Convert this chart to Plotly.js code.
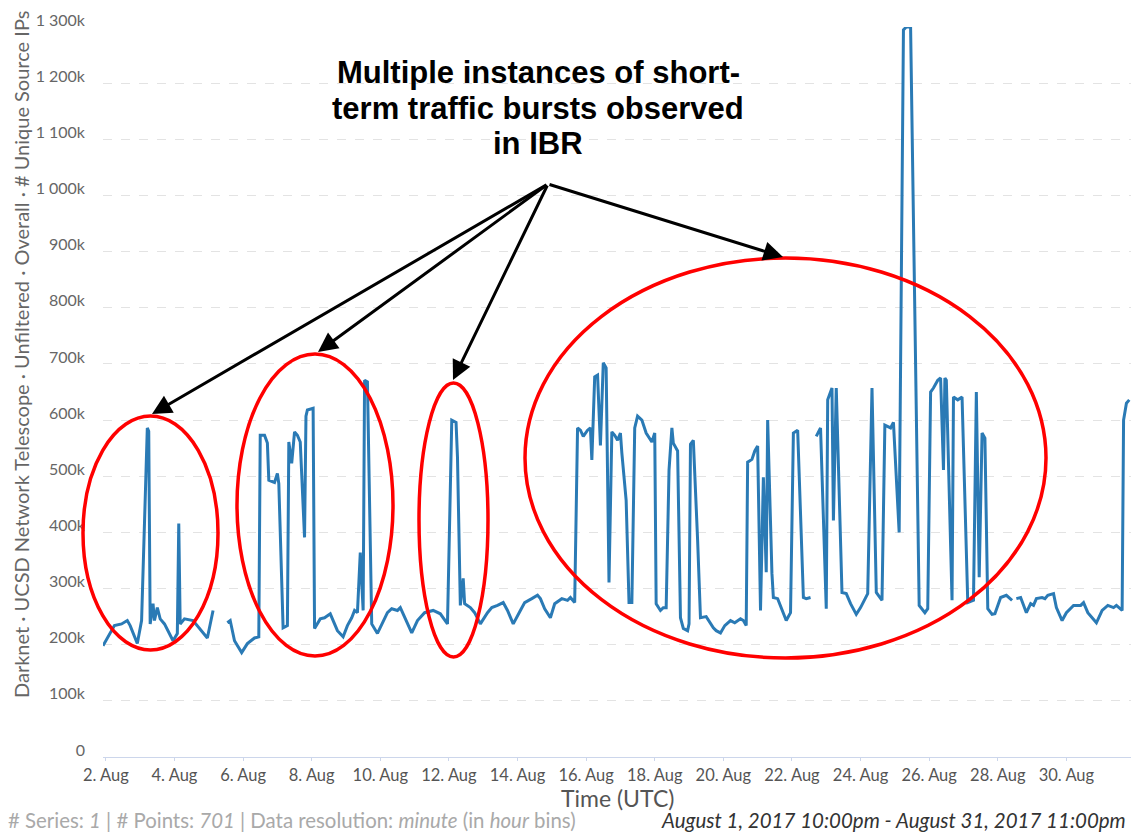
<!DOCTYPE html>
<html><head><meta charset="utf-8">
<script src="https://cdn.plot.ly/plotly-3.0.1.min.js"></script>
<style>html,body{margin:0;padding:0;background:#fff}</style>
</head><body><div id="chart" style="width:1132px;height:832px"></div>
<script>
// Hours since 2017-08-01 22:00 UTC (null values mark gaps in the series)
const hoursSinceStart = [0,5,8,13,17,19,24,27,31,32,33,35,36,38,40,43,49,52,53,54,57,63,69,73,77,80,
87,89,92,97,101,106,109,110,113,115,116,120,122,123,126,129,130,132,134,136,138,141,142,143,147,148,152,155,159,161,164,168,171,174,176,178,180,182,183,185,188,192,195,199,202,206,208,211,216,220,225,231,236,241,244,247,248,250,252,253,257,260,264,269,272,276,280,283,287,292,295,300,304,306,309,313,316,321,325,327,330,332,334,336,339,341,342,344,346,348,350,352,354,356,358,360,362,363,366,368,370,372,374,377,380,384,386,387,390,392,394,396,398,399,402,404,406,409,410,411,413,416,418,422,427,429,432,435,439,442,446,448,450,451,454,456,458,460,462,464,465,468,469,472,475,478,481,483,486,490,492,495,497,
499,502,506,507,510,511,513,516,517,520,523,527,530,535,538,541,545,547,551,553,557,560,562,565,571,575,577,579,581,584,586,588,589,590,594,595,598,601,605,609,611,613,615,617,619,622,624,628,632,636,637,
639,642,646,649,651,653,657,659,661,665,667,671,674,679,684,686,689,695,699,703,707,709,713,714,716,718];
// Unique source IPs, in thousands
const uniqueSourceIPsK = [198,220,234,237,243,234,202,243,586,580,237,273,243,266,246,237,207,220,416,237,246,243,225,212,261,null,
239,243,207,186,202,212,214,573,573,559,493,489,505,487,230,234,561,523,579,573,561,391,607,618,621,229,246,248,255,243,225,214,234,248,261,257,364,261,671,668,237,220,237,257,264,261,266,248,221,243,257,261,255,237,600,596,534,270,318,273,266,257,237,257,266,270,275,261,237,261,275,282,288,282,264,248,273,282,279,284,275,586,582,571,582,586,529,677,680,555,702,693,311,579,573,564,577,541,457,275,275,586,607,600,577,561,577,273,261,266,266,511,586,559,545,248,229,225,237,557,564,386,248,250,230,225,221,234,243,239,246,243,234,525,530,545,554,261,498,329,600,327,284,282,264,243,257,577,582,284,282,284,null,
571,586,264,636,657,421,657,391,293,291,273,254,266,291,657,293,279,591,586,596,400,1295,1300,1300,270,257,264,650,657,671,675,511,675,671,279,641,636,641,275,279,650,320,577,568,264,254,255,284,288,279,null,
282,284,257,273,270,282,284,282,288,291,266,243,257,270,270,275,257,239,261,270,266,270,261,600,630,636];

const xTickDates = ['2017-08-02','2017-08-04','2017-08-06','2017-08-08','2017-08-10','2017-08-12','2017-08-14','2017-08-16','2017-08-18','2017-08-20','2017-08-22','2017-08-24','2017-08-26','2017-08-28','2017-08-30'];
const xTickLabels = ['2. Aug','4. Aug','6. Aug','8. Aug','10. Aug','12. Aug','14. Aug','16. Aug','18. Aug','20. Aug','22. Aug','24. Aug','26. Aug','28. Aug','30. Aug'];
const yTickValues = [0,100,200,300,400,500,600,700,800,900,1000,1100,1200,1300];
const yTickLabels = ['0','100k','200k','300k','400k','500k','600k','700k','800k','900k','1 000k','1 100k','1 200k','1 300k'];

const chartTitleLines = ['Multiple instances of short-','term traffic bursts observed','in IBR'];
const yTitle = 'Darknet · UCSD Network Telescope · Unfiltered · Overall · # Unique Source IPs';
const xTitle = 'Time (UTC)';
const footerLeft = '# Series: <i>1</i> | # Points: <i>701</i> | Data resolution: <i>minute</i> (in <i>hour</i> bins)';
const footerRight = '<i>August 1, 2017 10:00pm - August 31, 2017 11:00pm</i>';

const startUTC = Date.UTC(2017,7,1,22);
function hourToDate(h){ return new Date(startUTC + h*3600000).toISOString().slice(0,19).replace('T',' '); }
const xDates = hoursSinceStart.map(hourToDate);

const W=1132, H=832, L=103, R=1131, T=27, B=757;
const px = p => (p-L)/(R-L);
const py = p => (B-p)/(B-T);

const ellipses = [[83,416,218,650],[237,354,393,656],[419,383,488,657],[525,258,1046,658]];
const arrowHeads = [[152,414],[318,352],[453,380],[783,257]];
const arrowTail = [548,184];

const shapes = ellipses.map(e => ({type:'circle', xref:'paper', yref:'paper',
  x0:px(e[0]), x1:px(e[2]), y0:py(e[3]), y1:py(e[1]), line:{color:'#ff0000', width:3.5}}));

const annotations = arrowHeads.map(a => ({xref:'paper', yref:'paper', x:px(a[0]), y:py(a[1]),
  ax: arrowTail[0]-a[0], ay: arrowTail[1]-a[1], text:'', showarrow:true, arrowhead:2, arrowsize:1.3,
  arrowwidth:3, arrowcolor:'#000', standoff:0, startstandoff:0}));

const titleLineY = [73,108,143];
chartTitleLines.forEach((t,i) => annotations.push({xref:'paper', yref:'paper', x:px(538), y:py(titleLineY[i]),
  text:'<b>'+t+'</b>', showarrow:false, xanchor:'center', yanchor:'middle', align:'center',
  font:{family:'Liberation Sans, Arial, sans-serif', size:31, color:'#000'}}));
annotations.push({xref:'paper', yref:'paper', x:px(21), y:py(355), text:yTitle, textangle:-90, showarrow:false,
  xanchor:'center', yanchor:'middle', font:{family:'Lato', size:20, color:'#666'}});
annotations.push({xref:'paper', yref:'paper', x:px(617), y:py(798), text:xTitle, showarrow:false,
  xanchor:'center', yanchor:'middle', font:{family:'Lato', size:23, color:'#555'}});
annotations.push({xref:'paper', yref:'paper', x:px(6), y:py(820), text:footerLeft, showarrow:false,
  xanchor:'left', yanchor:'middle', font:{family:'Lato', size:20.4, color:'#a9a9a9'}});
annotations.push({xref:'paper', yref:'paper', x:px(1128), y:py(820), text:footerRight, showarrow:false,
  xanchor:'right', yanchor:'middle', font:{family:'Lato', size:20.5, color:'#333'}});

const trace = {type:'scatter', mode:'lines', x:xDates, y:uniqueSourceIPsK, connectgaps:false,
  line:{color:'#2a7ab5', width:3}, hoverinfo:'skip'};

const layout = {
  width:W, height:H, margin:{l:L, r:W-R, t:T, b:H-B},
  paper_bgcolor:'#fff', plot_bgcolor:'#fff', showlegend:false,
  font:{family:'Lato', color:'#666'},
  xaxis:{type:'date', range:[hourToDate(0), hourToDate(719.2)], tickmode:'array', tickvals:xTickDates, ticktext:xTickLabels,
    showgrid:false, zeroline:false, showline:true, linecolor:'#ccd6eb', linewidth:1,
    ticks:'outside', ticklen:3, tickcolor:'#ccd6eb', tickfont:{family:'Lato', size:16.5, color:'#555'}},
  yaxis:{range:[0,1300], tickmode:'array', tickvals:yTickValues, ticktext:yTickLabels,
    showgrid:true, gridcolor:'#e3e3e3', griddash:'dash', gridwidth:1, zeroline:false, showline:false,
    ticks:'', ticklabelstandoff:17, ticklabelshift:-7, tickfont:{family:'Lato', size:16, color:'#666'}},
  shapes:shapes, annotations:annotations
};
Plotly.newPlot('chart', [trace], layout, {staticPlot:true, displayModeBar:false});
</script></body></html>
